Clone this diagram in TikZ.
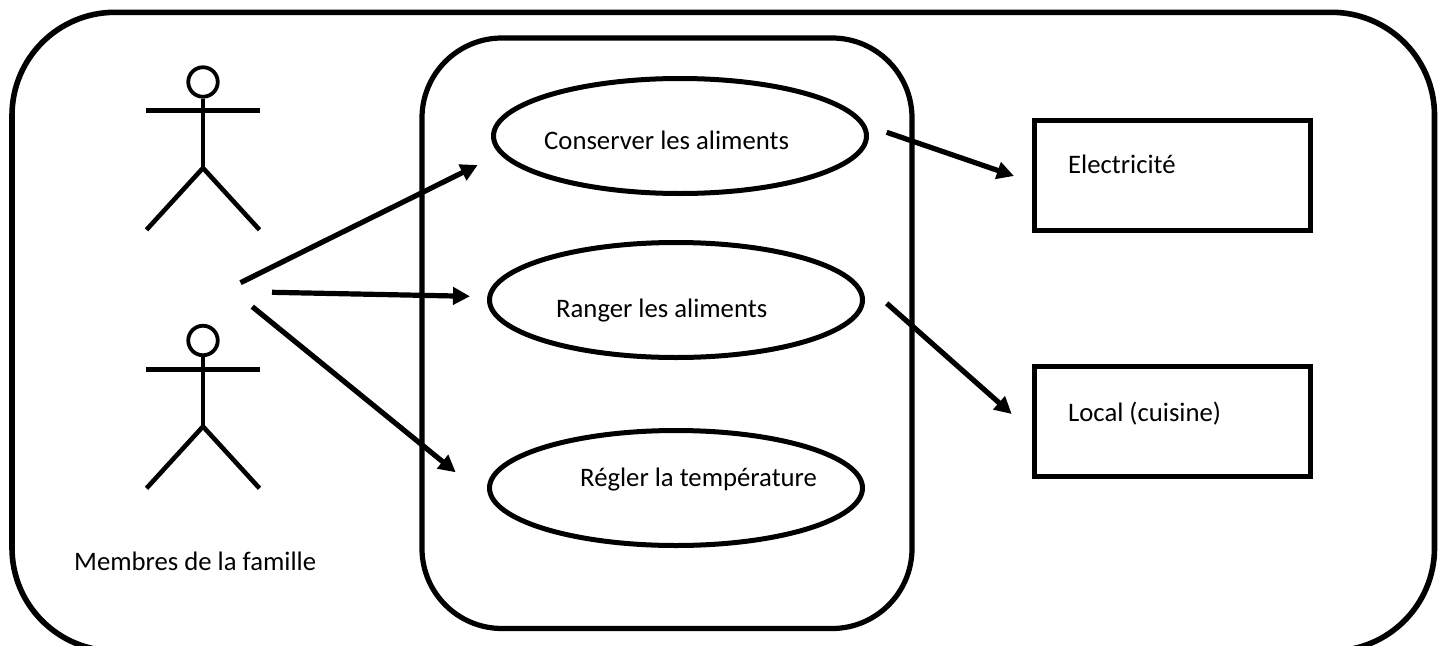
\documentclass[tikz,border=0pt]{standalone}
\usepackage{fontspec}
\setmainfont{Carlito}
\usetikzlibrary{arrows.meta,shapes.geometric}
\tikzset{
  outerbox/.style={line width=5.6pt,draw=black},
  heavy/.style={line width=5.2pt,draw=black},
  limb/.style={line width=3.8pt,draw=black},
  legline/.style={line width=4.6pt,draw=black},
  armline/.style={line width=5pt,draw=black},
  usecase/.style={ellipse,draw=black,line width=5pt,minimum width=373pt,minimum height=115pt,inner sep=0pt},
  res/.style={rectangle,draw=black,line width=5pt,minimum width=276pt,minimum height=110pt,inner sep=0pt},
  lbl/.style={font=\fontsize{26.7pt}{30pt}\selectfont,inner sep=0pt,anchor=base west,text=black},
  arr/.style={line width=5.2pt,draw=black,-{Triangle[length=17pt,width=17pt]}},
  head/.style={circle,draw=black,line width=3.8pt,minimum size=29.5pt,inner sep=0pt}
}
\begin{document}
\begin{tikzpicture}[x=1pt,y=-1pt]
\useasboundingbox (0,0) rectangle (1445,645);
\begin{scope}
\clip (0,0) rectangle (1445,645);
\draw[outerbox,rounded corners=103pt] (12,12.3) rectangle (1434.5,651);
\end{scope}
\draw[heavy,rounded corners=80pt] (422,38) rectangle (912,628.5);
% actors
\foreach \n/\dy in {a/0,b/258.5}{
  \node[head] (\n head) at (203,{82+\dy}) {};
  \coordinate (\n hip) at (203,{168+\dy});
  \coordinate (\n la) at (145.7,{110.7+\dy});
  \coordinate (\n ra) at (260,{110.7+\dy});
  \coordinate (\n lf) at (146.5,{229.8+\dy});
  \coordinate (\n rf) at (259.5,{229.8+\dy});
  \draw[limb] (\n head.south) -- (\n hip);
  \draw[armline] (\n la) -- (\n ra);
  \draw[legline] (\n lf) -- (\n hip) -- (\n rf);
}
% use cases
\node[usecase] (u1) at (680,136) {};
\node[usecase] (u2) at (676,300) {};
\node[usecase] (u3) at (676,488) {};
\node[res] (r1) at (1172.5,175.5) {};
\node[res] (r2) at (1172.5,421.5) {};
% labels
\node[lbl] (t1) at (544,149) {Conserver les aliments};
\node[lbl] (t2) at (556,317) {Ranger les aliments};
\node[lbl] (t3) at (580,486) {Régler la température};
\node[lbl] (t4) at (1068,173) {Electricité};
\node[lbl] (t5) at (1068,421) {Local (cuisine)};
\node[lbl] (t6) at (74,570.5) {Membres de la famille};
% connectors
\coordinate (s1) at (240.5,282.7);
\coordinate (s2) at (272,292.3);
\coordinate (s3) at (252.3,306.7);
\coordinate (e1) at (477.7,165);
\coordinate (e2) at (470,296.3);
\coordinate (e3) at (455.7,472.3);
\coordinate (s4) at (886.7,132.3);
\coordinate (e4) at (1014,176);
\coordinate (s5) at (886.7,303.3);
\coordinate (e5) at (1011.7,414);
\draw[arr] (s1) -- (e1);
\draw[arr] (s2) -- (e2);
\draw[arr] (s3) -- (e3);
\draw[arr] (s4) -- (e4);
\draw[arr] (s5) -- (e5);
\end{tikzpicture}
\end{document}
